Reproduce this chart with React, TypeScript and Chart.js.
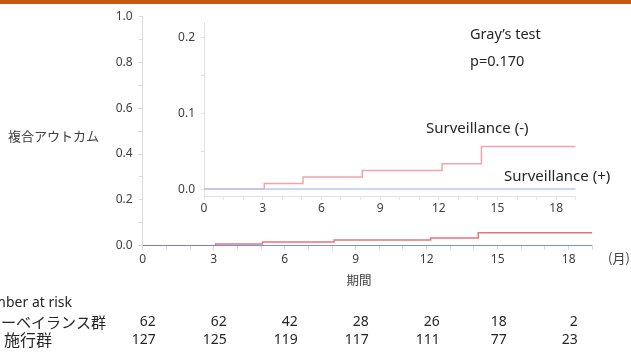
import React, { useEffect, useRef } from "react";
import { Chart, registerables } from "chart.js";

Chart.register(...registerables);

const W = 631;
const H = 354;
const FONT = '"Noto Sans", "Noto Sans CJK JP", sans-serif';
const CJK = '"Noto Sans CJK JP", "Noto Sans", sans-serif';

// Cumulative incidence (step curves), months
const negTimes = [0, 3.08, 5.06, 8.09, 12.17, 14.18, 19];
const negValues = [0, 0.0074, 0.0158, 0.0245, 0.0333, 0.056, 0.056];
const posTimes = [0, 19];
const posValues = [0, 0];

// Axes
const xMin = 0;
const xMax = 19;
const xLabelMonths = [0, 3, 6, 9, 12, 15, 18];
const mainYTicks = [0, 0.1, 0.2, 0.3, 0.4, 0.5, 0.6, 0.7, 0.8, 0.9, 1.0];
const mainYLabels = [0, 0.2, 0.4, 0.6, 0.8, 1.0];
const insetYTicks = [0, 0.05, 0.1, 0.15, 0.2];
const insetYLabels = [0, 0.1, 0.2];
const insetYMin = -0.01;
const insetYMax = 0.22;

// Number at risk table
const riskTimes = [0, 3, 6, 9, 12, 15, 18];
const riskGroupA = [62, 62, 42, 28, 26, 18, 2];
const riskGroupB = [127, 125, 119, 117, 111, 77, 23];
const riskRowLabels = ["サーベイランス群", "施行群"];

const pts = (xs: number[], ys: number[]) => xs.map((x, i) => ({ x, y: ys[i] }));

const isLabel = (v: number, list: number[]) => list.some((l) => Math.abs(l - v) < 1e-6);

const overlayPlugin = {
  id: "overlay",
  afterDraw(chart: any) {
    const ctx = chart.ctx as CanvasRenderingContext2D;
    const xs = chart.scales.x;
    ctx.save();
    // top orange band
    ctx.fillStyle = "#C55A11";
    ctx.fillRect(0, 0, W, 4);

    ctx.textBaseline = "middle";
    // y-axis title
    ctx.fillStyle = "#404040";
    ctx.font = `13px ${CJK}`;
    ctx.textAlign = "left";
    ctx.fillText("複合アウトカム", 8, 136);
    // x-axis title
    ctx.font = `12.5px ${CJK}`;
    ctx.textAlign = "center";
    ctx.fillText("期間", 359, 280);
    ctx.font = `13px ${CJK}`;
    ctx.textAlign = "left";
    ctx.fillText("(月)", 608, 258);

    // annotations
    ctx.fillStyle = "#262626";
    ctx.font = `14.5px ${FONT}`;
    ctx.fillText("Gray\u2019s test", 470, 35);
    ctx.fillText("p=0.170", 470, 62);
    ctx.font = `15px ${FONT}`;
    ctx.fillText("Surveillance (-)", 426, 129);
    ctx.fillText("Surveillance (+)", 504, 177);

    // number at risk
    ctx.font = `14px ${FONT}`;
    ctx.textAlign = "right";
    ctx.fillText("Number at risk", 72, 303);
    ctx.font = `15px ${CJK}`;
    ctx.fillText(riskRowLabels[0], 106, 322);
    ctx.font = `16px ${CJK}`;
    ctx.fillText(riskRowLabels[1], 52, 340);
    ctx.font = `14px ${FONT}`;
    riskTimes.forEach((t, i) => {
      const px = xs.getPixelForValue(t);
      const wB = ctx.measureText(String(riskGroupB[i])).width;
      const right = px + wB / 2 + 1;
      ctx.fillText(String(riskGroupA[i]), right, 322);
      ctx.fillText(String(riskGroupB[i]), right, 340);
    });
    ctx.restore();
  },
};

function makeChart(
  canvas: HTMLCanvasElement,
  cfg: {
    pad: { left: number; right: number; top: number; bottom: number };
    yWidth: number;
    xHeight: number;
    yMin: number;
    yMax: number;
    yTicks: number[];
    yLabels: number[];
    red: string;
    blue: string;
    axisColor: string;
    tickLenX: number;
    tickLenY: number;
    padX: number;
    padY: number;
    plugins: any[];
  }
) {
  return new Chart(canvas, {
    type: "line",
    data: {
      datasets: [
        {
          label: "Surveillance (+)",
          data: pts(posTimes, posValues),
          borderColor: cfg.blue,
          borderWidth: 1.5,
          pointRadius: 0,
          stepped: "before",
          fill: false,
        },
        {
          label: "Surveillance (-)",
          data: pts(negTimes, negValues),
          borderColor: cfg.red,
          borderWidth: 1.5,
          pointRadius: 0,
          stepped: "before",
          fill: false,
        },
      ],
    },
    options: {
      responsive: false,
      animation: false,
      devicePixelRatio: 1,
      layout: { padding: cfg.pad },
      plugins: { legend: { display: false }, tooltip: { enabled: false } },
      scales: {
        x: {
          type: "linear",
          min: xMin,
          max: xMax,
          afterFit: (s: any) => {
            s.height = cfg.xHeight;
          },
          ticks: {
            stepSize: 1,
            autoSkip: false,
            maxRotation: 0,
            padding: cfg.padX,
            color: "#404040",
            font: { size: 12, family: FONT },
            callback: (v: any) => (isLabel(Number(v), xLabelMonths) ? String(v) : ""),
          },
          grid: {
            drawOnChartArea: false,
            drawTicks: true,
            tickLength: cfg.tickLenX,
            color: cfg.axisColor,
          },
          border: { color: cfg.axisColor, width: 1 },
        },
        y: {
          type: "linear",
          min: cfg.yMin,
          max: cfg.yMax,
          afterFit: (s: any) => {
            s.width = cfg.yWidth;
          },
          afterBuildTicks: (s: any) => {
            s.ticks = cfg.yTicks.map((v) => ({ value: v }));
          },
          ticks: {
            padding: cfg.padY,
            color: "#404040",
            font: { size: 12, family: FONT },
            callback: (v: any) => (isLabel(Number(v), cfg.yLabels) ? Number(v).toFixed(1) : ""),
          },
          grid: {
            drawOnChartArea: false,
            drawTicks: true,
            tickLength: cfg.tickLenY,
            color: cfg.axisColor,
          },
          border: { color: cfg.axisColor, width: 1 },
        },
      },
    },
    plugins: cfg.plugins,
  } as any);
}

export default function App() {
  const mainRef = useRef<HTMLCanvasElement>(null);
  const insetRef = useRef<HTMLCanvasElement>(null);

  useEffect(() => {
    if (!mainRef.current || !insetRef.current) return;
    const main = makeChart(mainRef.current, {
      pad: { left: 82.7, right: 38.7, top: 16.5, bottom: 78.3 },
      yWidth: 60,
      xHeight: 30,
      yMin: 0,
      yMax: 1,
      yTicks: mainYTicks,
      yLabels: mainYLabels,
      red: "#E8747E",
      blue: "#5678DC",
      axisColor: "#D9D9D9",
      tickLenX: 4,
      tickLenY: 4,
      padX: 3,
      padY: 6,
      plugins: [overlayPlugin],
    });
    const inset = makeChart(insetRef.current, {
      pad: { left: 154, right: 55.3, top: 22, bottom: 127.3 },
      yWidth: 50,
      xHeight: 30,
      yMin: insetYMin,
      yMax: insetYMax,
      yTicks: insetYTicks,
      yLabels: insetYLabels,
      red: "#F2A4AC",
      blue: "#B9CAEE",
      axisColor: "#E2E2E2",
      tickLenX: 3,
      tickLenY: 3,
      padX: 2,
      padY: 6,
      plugins: [],
    });
    return () => {
      main.destroy();
      inset.destroy();
    };
  }, []);

  return (
    <div style={{ position: "fixed", left: 0, top: 0, width: W, height: H, background: "#fff", overflow: "hidden" }}>
      <canvas ref={mainRef} width={W} height={H} style={{ position: "absolute", left: 0, top: 0, width: W, height: H }} />
      <canvas ref={insetRef} width={W} height={H} style={{ position: "absolute", left: 0, top: 0, width: W, height: H, pointerEvents: "none" }} />
    </div>
  );
}
